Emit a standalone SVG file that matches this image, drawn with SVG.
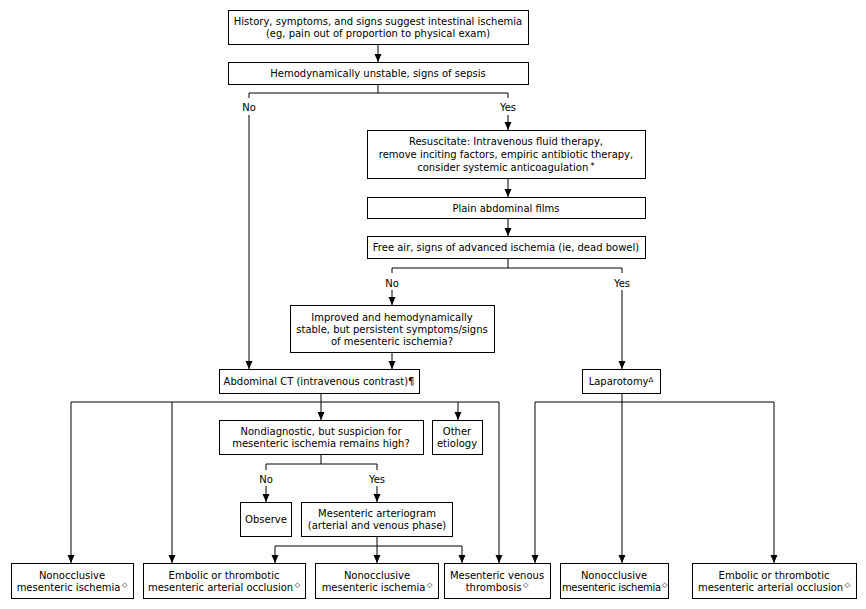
<svg xmlns="http://www.w3.org/2000/svg" width="866" height="609" viewBox="0 0 866 609">
<defs>
<marker id="ah" markerUnits="userSpaceOnUse" markerWidth="8" markerHeight="8" refX="8" refY="3.5" orient="auto">
<path d="M0,0 L8,3.5 L0,7 z" fill="#000"/>
</marker>
<style>
.b{fill:#fff;stroke:#000;stroke-width:1}
text{font-family:"DejaVu Sans",Verdana,sans-serif;font-size:10px;fill:#000;text-anchor:middle}
.c line,.c path{stroke:#000;stroke-width:1;fill:none}
.a{marker-end:url(#ah)}
.s{font-size:7px}
.ast{font-size:9px}
.n{letter-spacing:-0.25px}
</style>
</defs>
<rect width="866" height="609" fill="#fff"/>
<g class="c">
<line class="a" x1="378" y1="44" x2="378" y2="62"/>
<path d="M378,84 V93 M249,98 V93 H508 V98"/>
<line class="a" x1="249" y1="115" x2="249" y2="369"/>
<line class="a" x1="508" y1="115" x2="508" y2="130"/>
<line class="a" x1="508" y1="178" x2="508" y2="197"/>
<line class="a" x1="508" y1="218" x2="508" y2="236"/>
<path d="M508,258 V268 M392,273 V268 H622 V273"/>
<line class="a" x1="392" y1="290" x2="392" y2="305"/>
<line class="a" x1="392" y1="352" x2="392" y2="369"/>
<line class="a" x1="622" y1="290" x2="622" y2="369"/>
<path d="M321,393 V402 M71,402 H499"/>
<line class="a" x1="71" y1="402" x2="71" y2="563"/>
<line class="a" x1="172" y1="402" x2="172" y2="563"/>
<line class="a" x1="321" y1="402" x2="321" y2="420"/>
<line class="a" x1="458" y1="402" x2="458" y2="420"/>
<line class="a" x1="499" y1="402" x2="499" y2="563"/>
<path d="M535,402 H774"/>
<line class="a" x1="622" y1="393" x2="622" y2="563"/>
<line class="a" x1="535" y1="402" x2="535" y2="563"/>
<line class="a" x1="774" y1="402" x2="774" y2="563"/>
<path d="M321,454 V464 M266,470 V464 H377 V470"/>
<line class="a" x1="266" y1="486" x2="266" y2="502"/>
<line class="a" x1="377" y1="486" x2="377" y2="502"/>
<path d="M377,536 V546 M275,546 H462"/>
<line class="a" x1="275" y1="546" x2="275" y2="563"/>
<line class="a" x1="377" y1="546" x2="377" y2="563"/>
<line class="a" x1="462" y1="546" x2="462" y2="563"/>
</g>
<g id="labels">
<text x="249" y="110.5">No</text>
<text x="508" y="110.5">Yes</text>
<text x="392" y="286.5">No</text>
<text x="622" y="286.5">Yes</text>
<text x="266" y="482.5">No</text>
<text x="377" y="482.5">Yes</text>
</g>
<g id="n1"><rect class="b" x="228.5" y="10.5" width="300" height="34"/>
<text x="378" y="24.5">History, symptoms, and signs suggest intestinal ischemia</text>
<text x="378" y="36.5">(eg, pain out of proportion to physical exam)</text></g>
<g id="n2"><rect class="b" x="228.5" y="62.5" width="300" height="22"/>
<text x="378" y="76.5">Hemodynamically unstable, signs of sepsis</text></g>
<g id="n3"><rect class="b" x="367.5" y="130.5" width="278" height="48"/>
<text x="506" y="144.5">Resuscitate: Intravenous fluid therapy,</text>
<text x="506" y="157.5">remove inciting factors, empiric antibiotic therapy,</text>
<text x="506" y="170.5">consider systemic anticoagulation<tspan class="ast" dx="2" dy="-2">*</tspan></text></g>
<g id="n4"><rect class="b" x="367.5" y="197.5" width="278" height="21"/>
<text x="506" y="211.5">Plain abdominal films</text></g>
<g id="n5"><rect class="b" x="367.5" y="236.5" width="278" height="22"/>
<text x="506" y="251">Free air, signs of advanced ischemia (ie, dead bowel)</text></g>
<g id="n6"><rect class="b" x="290.5" y="305.5" width="204" height="47"/>
<text x="392" y="320.5">Improved and hemodynamically</text>
<text x="392" y="332.5">stable, but persistent symptoms/signs</text>
<text x="392" y="345">of mesenteric ischemia?</text></g>
<g id="n7"><rect class="b" x="219.5" y="369.5" width="200" height="24"/>
<text x="319" y="385">Abdominal CT (intravenous contrast)¶</text></g>
<g id="n8"><rect class="b" x="582.5" y="369.5" width="78" height="24"/>
<text x="621" y="385">Laparotomy<tspan class="s" dy="-3.5">Δ</tspan></text></g>
<g id="n9"><rect class="b" x="219.5" y="420.5" width="204" height="34"/>
<text x="321" y="434.5">Nondiagnostic, but suspicion for</text>
<text x="321" y="446.5">mesenteric ischemia remains high?</text></g>
<g id="n10"><rect class="b" x="432.5" y="420.5" width="50" height="34"/>
<text x="457" y="434.5">Other</text>
<text x="457" y="446.5">etiology</text></g>
<g id="n11"><rect class="b" x="240.5" y="502.5" width="51" height="34"/>
<text x="266" y="522.5">Observe</text></g>
<g id="n12"><rect class="b" x="301.5" y="502.5" width="151" height="34"/>
<text x="377" y="516.5">Mesenteric arteriogram</text>
<text x="377" y="528.5">(arterial and venous phase)</text></g>
<g id="n13"><rect class="b" x="11.5" y="563.5" width="122" height="35"/>
<text x="72" y="578.5">Nonocclusive</text>
<text x="72" y="590.5">mesenteric ischemia<tspan class="s" dx="1.5" dy="-3.5">◇</tspan></text></g>
<g id="n14"><rect class="b" x="143.5" y="563.5" width="162" height="35"/>
<text x="224" y="578.5">Embolic or thrombotic</text>
<text x="224" y="590.5">mesenteric arterial occlusion<tspan class="s" dx="1.5" dy="-3.5">◇</tspan></text></g>
<g id="n15"><rect class="b" x="315.5" y="563.5" width="123" height="35"/>
<text x="377" y="578.5">Nonocclusive</text>
<text x="377" y="590.5">mesenteric ischemia<tspan class="s" dx="1.5" dy="-3.5">◇</tspan></text></g>
<g id="n16"><rect class="b" x="444.5" y="563.5" width="106" height="35"/>
<text x="497" y="578.5">Mesenteric venous</text>
<text x="497" y="590.5">thrombosis<tspan class="s" dx="1.5" dy="-3.5">◇</tspan></text></g>
<g id="n17"><rect class="b" x="560.5" y="563.5" width="108" height="35"/>
<text x="614" y="578.5">Nonocclusive</text>
<text class="n" x="614.5" y="590.5">mesenteric ischemia<tspan class="s" dx="1" dy="-3.5">◇</tspan></text></g>
<g id="n18"><rect class="b" x="692.5" y="563.5" width="164" height="35"/>
<text x="774" y="578.5">Embolic or thrombotic</text>
<text x="774" y="590.5">mesenteric arterial occlusion<tspan class="s" dx="1.5" dy="-3.5">◇</tspan></text></g>
</svg>
